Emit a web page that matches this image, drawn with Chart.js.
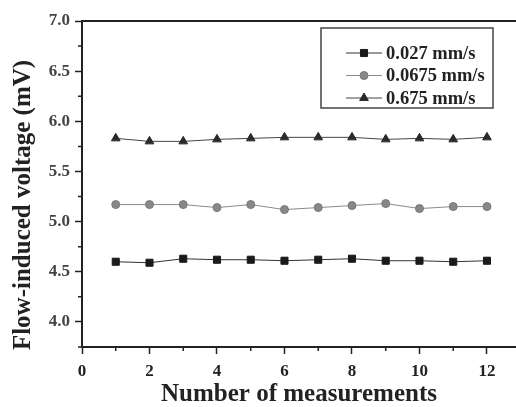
<!DOCTYPE html>
<html>
<head>
<meta charset="utf-8">
<script src="https://cdn.jsdelivr.net/npm/chart.js@4.4.1/dist/chart.umd.min.js"></script>
<style>
  html, body { margin: 0; padding: 0; background: #fff; }
  #wrap { width: 516px; height: 407px; }
</style>
</head>
<body>
<div id="wrap"><canvas id="chart"></canvas></div>
<script>
// measurement index
const measurements = [1, 2, 3, 4, 5, 6, 7, 8, 9, 10, 11, 12];
// flow-induced voltage (mV) per flow rate
const v0027 = [4.60, 4.59, 4.63, 4.62, 4.62, 4.61, 4.62, 4.63, 4.61, 4.61, 4.60, 4.61];
const v00675 = [5.17, 5.17, 5.17, 5.14, 5.17, 5.12, 5.14, 5.16, 5.18, 5.13, 5.15, 5.15];
const v0675 = [5.83, 5.80, 5.80, 5.82, 5.83, 5.84, 5.84, 5.84, 5.82, 5.83, 5.82, 5.84];
const xTickValues = [0, 1, 2, 3, 4, 5, 6, 7, 8, 9, 10, 11, 12];
const seriesLabels = ['0.027 mm/s', '0.0675 mm/s', '0.675 mm/s'];
const xTitle = 'Number of measurements';
const yTitle = 'Flow-induced voltage (mV)';

const serif = '"Liberation Serif", "DejaVu Serif", serif';
const toPoints = vals => vals.map((v, i) => ({ x: measurements[i], y: v }));
const isMajorX = v => Math.abs(v / 2 - Math.round(v / 2)) < 1e-6;
const isMajorY = v => Math.abs(v * 2 - Math.round(v * 2)) < 1e-6;

// draws the top frame line, short minor ticks, the boxed legend and the y title
const extras = {
  id: 'extras',
  afterDraw(chart) {
    const { ctx, chartArea: ca, scales } = chart;
    ctx.save();
    ctx.strokeStyle = '#222';
    ctx.lineWidth = 2;
    ctx.beginPath();
    ctx.moveTo(ca.left, ca.top);
    ctx.lineTo(chart.width, ca.top);
    ctx.stroke();

    ctx.lineWidth = 1.5;
    ctx.beginPath();
    scales.x.ticks.forEach(t => {
      if (isMajorX(t.value)) return;
      const px = scales.x.getPixelForValue(t.value);
      ctx.moveTo(px, ca.bottom);
      ctx.lineTo(px, ca.bottom + 4);
    });
    scales.y.ticks.forEach(t => {
      if (isMajorY(t.value)) return;
      const py = scales.y.getPixelForValue(t.value);
      ctx.moveTo(ca.left, py);
      ctx.lineTo(ca.left - 4, py);
    });
    ctx.stroke();

    // legend
    const lx = chart.width - 195, ly = ca.top + 7;
    ctx.fillStyle = '#fff';
    ctx.fillRect(lx, ly, 172, 80);
    ctx.strokeStyle = '#444';
    ctx.lineWidth = 1.5;
    ctx.strokeRect(lx, ly, 172, 80);
    chart.data.datasets.forEach((ds, i) => {
      const y = ly + 25 + i * 22.5;
      ctx.strokeStyle = ds.borderColor;
      ctx.lineWidth = 1;
      ctx.beginPath();
      ctx.moveTo(lx + 25, y);
      ctx.lineTo(lx + 61, y);
      ctx.stroke();
      ctx.fillStyle = ds.pointBackgroundColor;
      ctx.strokeStyle = ds.pointBorderColor;
      Chart.helpers.drawPoint(ctx, {
        pointStyle: ds.pointStyle, radius: ds.pointRadius, rotation: 0, borderWidth: 1
      }, lx + 43, y);
      ctx.fillStyle = '#222';
      ctx.font = 'bold 18.5px ' + serif;
      ctx.textAlign = 'left';
      ctx.textBaseline = 'middle';
      ctx.fillText(ds.label, lx + 65, y + 1);
    });

    // y axis title
    ctx.translate(24, 205);
    ctx.rotate(-Math.PI / 2);
    ctx.fillStyle = '#222';
    ctx.font = 'bold 25px ' + serif;
    ctx.textAlign = 'center';
    ctx.textBaseline = 'middle';
    ctx.fillText(yTitle, 0, 0);
    ctx.restore();
  }
};

new Chart(document.getElementById('chart'), {
  type: 'scatter',
  data: {
    datasets: [
      {
        label: seriesLabels[0], data: toPoints(v0027), showLine: true,
        borderColor: '#333', borderWidth: 1,
        pointStyle: 'rect', pointRadius: 5, pointBackgroundColor: '#1a1a1a', pointBorderColor: '#1a1a1a'
      },
      {
        label: seriesLabels[1], data: toPoints(v00675), showLine: true,
        borderColor: '#8a8a8a', borderWidth: 1,
        pointStyle: 'circle', pointRadius: 4, pointBackgroundColor: '#888', pointBorderColor: '#777'
      },
      {
        label: seriesLabels[2], data: toPoints(v0675), showLine: true,
        borderColor: '#444', borderWidth: 1,
        pointStyle: 'triangle', pointRadius: 5, pointBackgroundColor: '#2a2a2a', pointBorderColor: '#2a2a2a'
      }
    ]
  },
  plugins: [extras],
  options: {
    responsive: true,
    maintainAspectRatio: false,
    animation: false,
    layout: { autoPadding: false, padding: { top: 21, right: 0, left: 0, bottom: 0 } },
    plugins: { legend: { display: false }, tooltip: { enabled: false } },
    scales: {
      x: {
        type: 'linear', min: 0, max: 12.86,
        afterFit: s => { s.height = 60; s.paddingRight = 0; },
        afterBuildTicks: s => { s.ticks = xTickValues.map(v => ({ value: v })); },
        border: { display: true, color: '#222', width: 2 },
        grid: {
          drawOnChartArea: false, tickLength: 7, tickWidth: 1.5,
          tickColor: c => (c.tick && isMajorX(c.tick.value)) ? '#222' : 'transparent'
        },
        ticks: {
          padding: 7, color: '#222', maxRotation: 0, autoSkip: false,
          font: { family: serif, size: 17, weight: 'bold' },
          callback: v => isMajorX(v) ? String(v) : ''
        },
        title: {
          display: true, text: xTitle, color: '#222',
          font: { family: serif, size: 25, weight: 'bold' },
          padding: { top: 0, bottom: -3 }
        }
      },
      y: {
        min: 3.75, max: 7,
        afterFit: s => { s.width = 82; },
        border: { display: true, color: '#222', width: 2 },
        grid: {
          drawOnChartArea: false, tickLength: 7, tickWidth: 1.5,
          tickColor: c => (c.tick && isMajorY(c.tick.value)) ? '#222' : 'transparent'
        },
        ticks: {
          stepSize: 0.25, padding: 5, color: '#444', autoSkip: false,
          font: { family: serif, size: 17, weight: 'bold' },
          callback: v => isMajorY(v) ? v.toFixed(1) : ''
        }
      }
    }
  }
});
</script>
</body>
</html>
